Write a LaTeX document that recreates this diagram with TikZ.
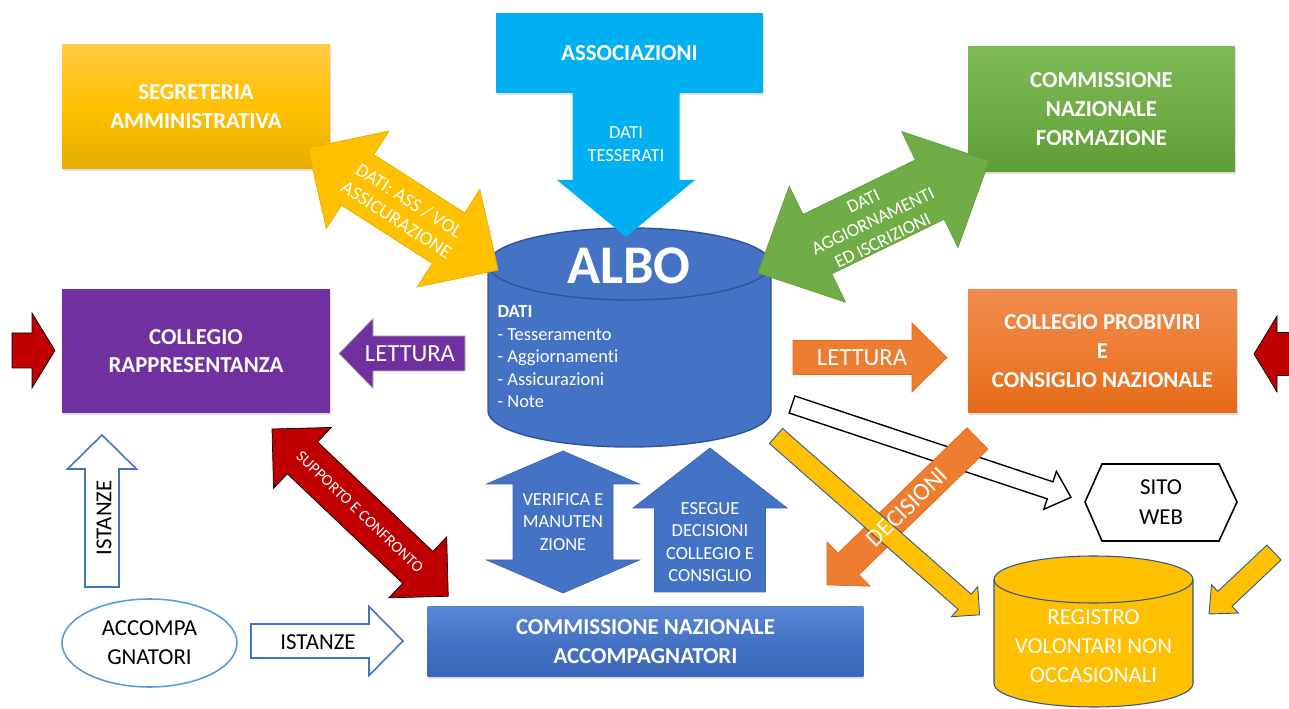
\documentclass[tikz,border=0pt]{standalone}
\usepackage{fontspec}
\setmainfont{Carlito}[Ligatures=NoCommon]
\usetikzlibrary{shapes.geometric,shadows}

\definecolor{gialloA}{HTML}{FFC000}
\definecolor{gialloT}{HTML}{FFCB45}
\definecolor{gialloB}{HTML}{E6AD00}
\definecolor{azzurro}{HTML}{00B0F0}
\definecolor{verde}{HTML}{70AD47}
\definecolor{verdeT}{HTML}{7EBA56}
\definecolor{verdeB}{HTML}{5E9E36}
\definecolor{viola}{HTML}{7030A0}
\definecolor{arancio}{HTML}{ED7D31}
\definecolor{arancioT}{HTML}{F18B50}
\definecolor{arancioB}{HTML}{E56A18}
\definecolor{blu}{HTML}{4472C4}
\definecolor{bluT}{HTML}{5B87D6}
\definecolor{bluB}{HTML}{2F5597}
\definecolor{bluC}{HTML}{3A66B8}
\definecolor{rosso}{HTML}{C00000}
\definecolor{celeste}{HTML}{5B9BD5}

\newcommand\boxfont{\fontsize{13}{16.4}\selectfont\bfseries}
% freccia a blocco: stile, coda, angolo, lunghezza, mezzo fusto, mezza punta, lunghezza punta
\newcommand\frecciaS[7]{%
  \path[#1, shift={(#2)}, rotate=#3] (0,-#5) -- ({#4-#7},-#5) -- ({#4-#7},-#6) -- (#4,0)
    -- ({#4-#7},#6) -- ({#4-#7},#5) -- (0,#5) -- cycle;}
\newcommand\frecciaD[7]{%
  \path[#1, shift={(#2)}, rotate=#3] (0,0) -- (#7,-#6) -- (#7,-#5) -- ({#4-#7},-#5) -- ({#4-#7},-#6)
    -- (#4,0) -- ({#4-#7},#6) -- ({#4-#7},#5) -- (#7,#5) -- (#7,#6) -- cycle;}

\begin{document}
\begin{tikzpicture}[x=0.02cm, y=-0.02cm, semithick]

    \tikzstyle{ente}=[rectangle, inner sep=0pt, text=white, align=center, font=\boxfont,
      drop shadow={shadow xshift=0.5pt, shadow yshift=-1.2pt, opacity=0.25}]
    \tikzstyle{lbl}=[text=white, align=center, inner sep=0pt]
    \tikzstyle{txt}=[text=black, align=center, inner sep=0pt, font=\fontsize{13}{16.4}\selectfont]

    \useasboundingbox (0,0) rectangle (1289,709);
    \clip (0,0) rectangle (1289,709);

    % enti
    \node[ente, minimum width=5.36cm, minimum height=2.5cm, top color=gialloT, bottom color=gialloB, middle color=gialloA] (seg) at (196,106.5) {SEGRETERIA\\AMMINISTRATIVA};
    \node[ente, minimum width=5.34cm, minimum height=1.6cm, fill=azzurro] (assoc) at (629.5,53) {ASSOCIAZIONI};
    \node[ente, minimum width=5.34cm, minimum height=2.52cm, top color=verdeT, bottom color=verdeB, middle color=verde] (form) at (1101.5,109) {COMMISSIONE\\NAZIONALE\\FORMAZIONE};
    \node[ente, minimum width=5.36cm, minimum height=2.48cm, fill=viola] (rapp) at (196,351) {COLLEGIO\\RAPPRESENTANZA};
    \node[ente, minimum width=5.38cm, minimum height=2.48cm, top color=arancioT, bottom color=arancioB, middle color=arancio] (prob) at (1102.5,351) {COLLEGIO PROBIVIRI\\E\\CONSIGLIO NAZIONALE};
    \node[ente, minimum width=8.72cm, minimum height=1.42cm, top color=bluT, bottom color=bluC, middle color=blu] (cna) at (645.5,641.5) {COMMISSIONE NAZIONALE\\ACCOMPAGNATORI};

    % albo
    \draw[fill=blu, draw=bluB, line width=0.8pt] (488,264) -- (488,411) arc[start angle=180, end angle=0, x radius=141.5, y radius=36]
      -- (771,264) arc[start angle=0, end angle=-180, x radius=141.5, y radius=36] -- cycle;
    \draw[draw=bluB, line width=0.8pt] (488,264) arc[start angle=180, end angle=0, x radius=141.5, y radius=36];
    \node[lbl, font=\fontsize{31}{31}\selectfont\bfseries] (albo) at (629,266) {ALBO};
    \node[lbl, align=left, anchor=north west, font=\fontsize{10.5}{12.75}\selectfont] (dati) at (497,305.5)
      {\textbf{DATI}\\- Tesseramento\\- Aggiornamenti\\- Assicurazioni\\- Note};

    % registro
    \draw[fill=gialloA, draw=bluB, line width=0.6pt] (994,579.5) -- (994,683.5) arc[start angle=180, end angle=0, x radius=99.5, y radius=23.5]
      -- (1193,579.5) arc[start angle=0, end angle=-180, x radius=99.5, y radius=23.5] -- cycle;
    \draw[draw=bluB, line width=0.6pt] (994,579.5) arc[start angle=180, end angle=0, x radius=99.5, y radius=23.5];
    \node[lbl, font=\fontsize{13}{16.5}\selectfont] (reg) at (1093.5,646) {REGISTRO\\VOLONTARI NON\\OCCASIONALI};

    % sito web e accompagnatori
    \draw[fill=white, line width=0.9pt] (1085,502) -- (1102,464) -- (1219,464) -- (1237,502) -- (1219,541) -- (1102,541) -- cycle;
    \node[txt, font=\fontsize{13}{17.4}\selectfont] (web) at (1161,502) {SITO\\WEB};
    \node[txt, ellipse, draw=celeste, line width=0.9pt, fill=white, minimum width=3.5cm, minimum height=1.76cm] (acc) at (149.5,643) {ACCOMPA\\GNATORI};

    % frecce
    \frecciaD{fill=gialloA, draw=gialloB, thin}{308,148}{-32.7}{226}{30}{58}{59}
    \node[lbl, rotate=-32.7, font=\fontsize{11}{13}\selectfont] (tSeg) at (403,210) {DATI: ASS / VOL\\ASSICURAZIONE};

    \frecciaS{fill=azzurro}{626,93}{-90}{144}{53.5}{69}{57}
    \node[lbl, font=\fontsize{10.5}{12.8}\selectfont] (tAss) at (626,144) {DATI\\TESSERATI};

    \frecciaD{fill=verde, draw=verdeB, thin}{758,273}{25.9}{257}{33}{64.5}{66}
    \node[lbl, rotate=25.9, font=\fontsize{10.5}{12.5}\selectfont] (tForm) at (873,221) {DATI\\AGGIORNAMENTI\\ED ISCRIZIONI};

    \frecciaS{fill=viola, draw=gray!60, thin}{465,353.5}{180}{126}{17.5}{35}{34}
    \node[lbl, font=\fontsize{14}{14}\selectfont] (tLetA) at (410,354) {LETTURA};

    \frecciaS{fill=arancio, draw=arancioB, thin}{793,357.5}{0}{154}{17}{34.5}{35}
    \node[lbl, font=\fontsize{14}{14}\selectfont] (tLetB) at (862,358) {LETTURA};

    \frecciaS{fill=rosso, draw=black, thin}{12,350.5}{0}{43}{17.5}{37.5}{23}
    \frecciaS{fill=rosso, draw=black, thin}{1300,354}{180}{46}{21.5}{38}{23}

    \frecciaD{fill=blu, draw=bluC, thin}{563,593}{90}{142}{50}{76.5}{33}
    \node[lbl, font=\fontsize{10.5}{12.75}\selectfont] (tVer) at (563,522) {VERIFICA E\\MANUTEN\\ZIONE};
    \frecciaS{fill=blu, draw=bluC, thin}{710,592}{90}{144}{55.5}{77}{60}
    \node[lbl, font=\fontsize{10.5}{12.7}\selectfont] (tEse) at (710,542) {ESEGUE\\DECISIONI\\COLLEGIO E\\CONSIGLIO};

    \frecciaD{fill=rosso, draw=black, thin}{272,429}{-43.5}{243}{22}{42}{42}
    \node[lbl, rotate=-43.5, font=\fontsize{9}{9}\selectfont] (tSup) at (360,512) {SUPPORTO E CONFRONTO};

    \frecciaS{fill=white, draw=blu, line width=0.9pt}{102,587}{90}{152}{17}{34.5}{34}
    \node[txt, rotate=90] (tIstA) at (104,518) {ISTANZE};
    \frecciaS{fill=white, draw=blu, line width=0.9pt}{251,641}{0}{152}{17}{34.5}{34}
    \node[txt] (tIstB) at (318,642) {ISTANZE};

    \frecciaS{fill=white, draw=black, line width=0.8pt}{792,404.5}{-18.4}{294}{9}{20}{22}
    \frecciaS{fill=arancio, draw=arancioB, thin}{977.5,438.5}{-135.8}{210}{15}{31}{30}
    \frecciaS{fill=gialloA, draw=bluB, line width=0.5pt}{776,436}{-41.3}{271}{10}{20}{20}
    \node[lbl, rotate=44.2, font=\fontsize{14}{14}\selectfont] (tDec) at (907,507) {DECISIONI};
    \frecciaS{fill=gialloA, draw=bluB, line width=0.5pt}{1274,552.5}{-136.6}{89.5}{10.3}{19.5}{22}

\end{tikzpicture}
\end{document}
